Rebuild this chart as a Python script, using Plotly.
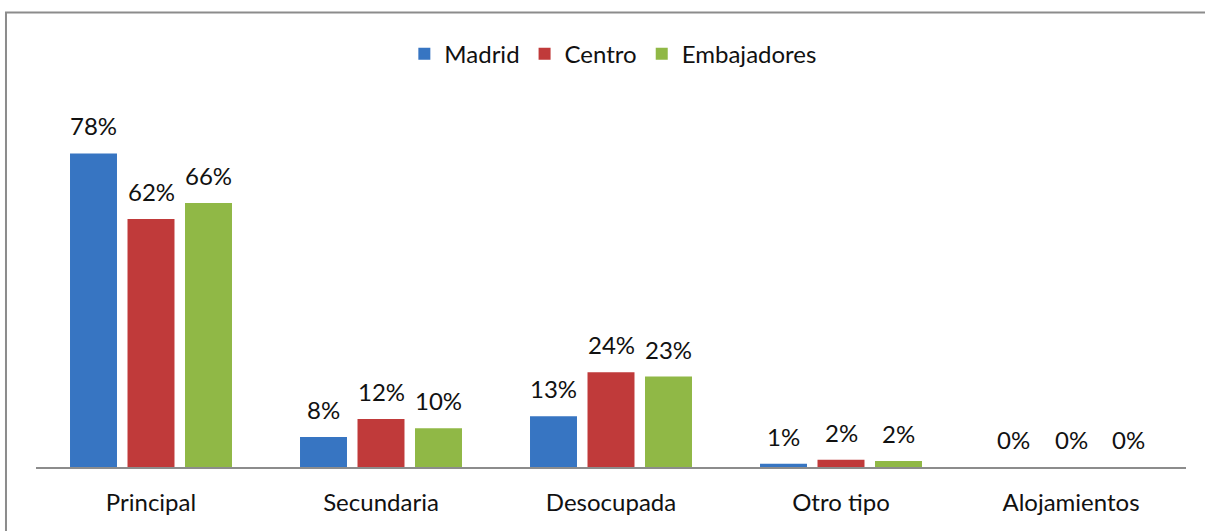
import plotly.graph_objects as go

categories = ["Principal", "Secundaria", "Desocupada", "Otro tipo", "Alojamientos"]
series_names = ["Madrid", "Centro", "Embajadores"]
madrid = [78.4, 7.5, 12.7, 0.8, 0.0]
centro = [62.0, 12.0, 23.7, 1.8, 0.0]
embajadores = [66.0, 9.7, 22.6, 1.5, 0.0]

series_values = [madrid, centro, embajadores]
colors = ["#3775c2", "#c03a3a", "#90b846"]
FONT = "Lato, 'Open Sans', sans-serif"

fig = go.Figure()
for name, vals, col in zip(series_names, series_values, colors):
    fig.add_trace(go.Bar(
        name=name, x=categories, y=vals,
        marker=dict(color=col, line=dict(width=0)),
        hoverinfo="skip",
    ))

annotations = []
offsets = [-57.5, 0, 57.5]
for vals, dx in zip(series_values, offsets):
    for c, v in zip(categories, vals):
        annotations.append(dict(
            x=c, y=v, xref="x", yref="y", xshift=dx, yshift=11,
            yanchor="bottom", xanchor="center", showarrow=False,
            text=f"{v:.0f}%", font=dict(family=FONT, size=24, color="#111111"),
        ))

fig.update_layout(
    width=1205, height=531,
    margin=dict(l=36, r=19, t=107, b=64),
    paper_bgcolor="white", plot_bgcolor="white",
    barmode="group", bargap=0.25, bargroupgap=0.183,
    font=dict(family=FONT, size=24, color="#111111"),
    showlegend=True,
    legend=dict(orientation="h", xref="container", yref="container",
                x=0.509, y=0.898, xanchor="center", yanchor="middle",
                font=dict(family=FONT, size=24, color="#111111"),
                itemwidth=30, bgcolor="rgba(0,0,0,0)"),
    xaxis=dict(showline=True, linecolor="#8c8c8c", linewidth=2, ticks="",
               showgrid=False, zeroline=False, ticklabelstandoff=13,
               tickfont=dict(family=FONT, size=24, color="#111111")),
    yaxis=dict(range=[0, 90], showgrid=False, zeroline=False,
               showticklabels=False, showline=False, ticks=""),
    annotations=annotations,
    shapes=[dict(type="rect", xref="paper", yref="paper",
                 x0=-0.0261, x1=1.03, y0=-0.3, y1=1.2625,
                 line=dict(color="#8c8c8c", width=2), fillcolor="rgba(0,0,0,0)",
                 layer="above")],
)

fig.write_html("out.html", config={"displayModeBar": False},
               post_script="document.body.style.margin='0';document.body.style.overflow='hidden';")
